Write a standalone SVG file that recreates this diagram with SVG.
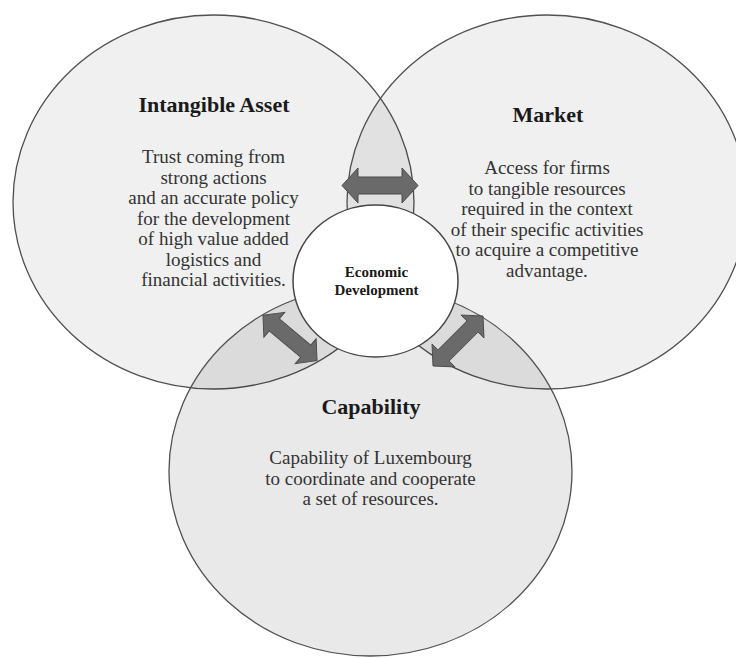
<svg xmlns="http://www.w3.org/2000/svg" xmlns:xlink="http://www.w3.org/1999/xlink" width="736" height="658" viewBox="0 0 736 658">
  <style>
    .big { fill: #000; fill-opacity: 0.06; stroke: #505050; stroke-width: 1.3; }
    .bottom { fill: #000; fill-opacity: 0.085; stroke: #505050; stroke-width: 1.3; }
    .core { fill: #ffffff; stroke: #454545; stroke-width: 1.5; }
    .title { font-family: "Liberation Serif", "Times New Roman", serif; font-weight: bold; font-size: 22px; fill: #1a1a1a; text-anchor: middle; }
    .body { font-family: "Liberation Serif", "Times New Roman", serif; font-size: 19px; fill: #333333; text-anchor: middle; }
    .core-text { font-family: "Liberation Serif", "Times New Roman", serif; font-weight: bold; font-size: 15px; fill: #1a1a1a; text-anchor: middle; }
    .arrow { fill: #6a6a6a; stroke: #4a4a4a; stroke-width: 1; }
  </style>
  <defs>
    <path id="dblarrow" d="M -38 0 L -22 -17.5 L -22 -8.5 L 22 -8.5 L 22 -17.5 L 38 0 L 22 17.5 L 22 8.5 L -22 8.5 L -22 17.5 Z"/>
  </defs>
  <rect width="736" height="658" fill="#ffffff"/>

  <g id="intangible-asset">
    <ellipse class="big" cx="213.5" cy="202" rx="200.5" ry="187"/>
    <text class="title" x="214" y="112">Intangible Asset</text>
    <text class="body" x="213.5" y="163">Trust coming from</text>
    <text class="body" x="213.5" y="183.5">strong actions</text>
    <text class="body" x="213.5" y="204">and an accurate policy</text>
    <text class="body" x="213.5" y="224.5">for the development</text>
    <text class="body" x="213.5" y="245">of high value added</text>
    <text class="body" x="213.5" y="265.5">logistics and</text>
    <text class="body" x="213.5" y="286">financial activities.</text>
  </g>

  <g id="market">
    <ellipse class="big" cx="547" cy="202" rx="200" ry="187"/>
    <text class="title" x="548" y="122">Market</text>
    <text class="body" x="547" y="174">Access for firms</text>
    <text class="body" x="547" y="194.5">to tangible resources</text>
    <text class="body" x="547" y="215">required in the context</text>
    <text class="body" x="547" y="235.5">of their specific activities</text>
    <text class="body" x="547" y="256">to acquire a competitive</text>
    <text class="body" x="547" y="276.5">advantage.</text>
  </g>

  <g id="capability">
    <ellipse class="bottom" cx="370.5" cy="471" rx="201.5" ry="185"/>
    <text class="title" x="371" y="413.5">Capability</text>
    <text class="body" x="370.5" y="464">Capability of Luxembourg</text>
    <text class="body" x="370.5" y="484.5">to coordinate and cooperate</text>
    <text class="body" x="370.5" y="505">a set of resources.</text>
  </g>

  <g id="economic-development">
    <ellipse class="core" cx="375.5" cy="281" rx="82.5" ry="76"/>
    <text class="core-text" x="376.5" y="277">Economic</text>
    <text class="core-text" x="376.5" y="295">Development</text>
  </g>

  <g id="connectors">
    <use class="arrow" xlink:href="#dblarrow" href="#dblarrow" transform="translate(380 185.5)"/>
    <use class="arrow" xlink:href="#dblarrow" href="#dblarrow" transform="translate(290 338) rotate(40) scale(0.93)"/>
    <use class="arrow" xlink:href="#dblarrow" href="#dblarrow" transform="translate(458 341) rotate(-45) scale(0.93)"/>
  </g>
</svg>
